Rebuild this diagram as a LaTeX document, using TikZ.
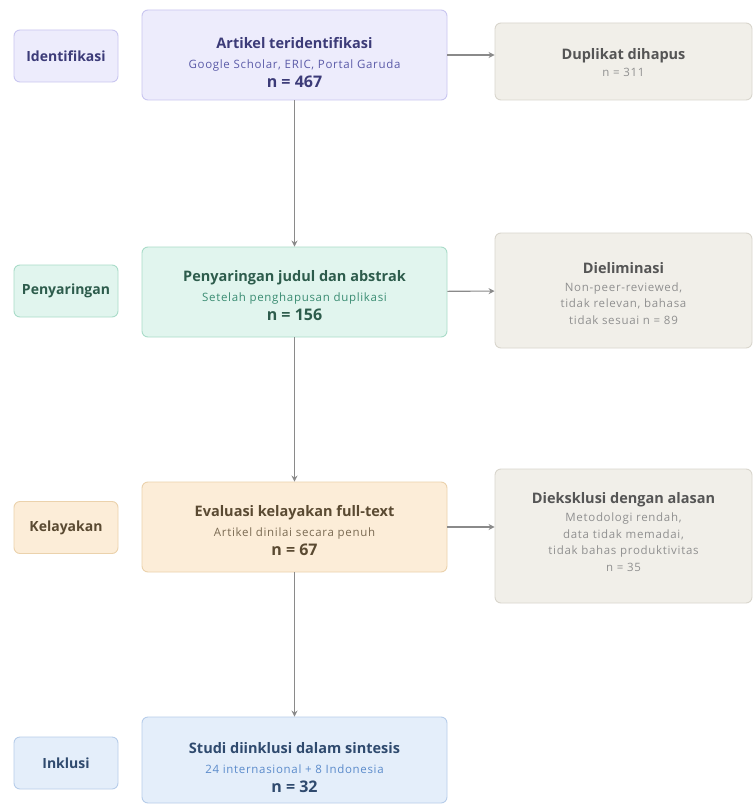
\documentclass[tikz,border=0pt]{standalone}
\usepackage{fontspec}
\setmainfont{Open Sans}
\newfontfamily\subfont[LetterSpace=6]{Open Sans}
\usetikzlibrary{arrows.meta}
\definecolor{idfill}{HTML}{EDECFC}\definecolor{iddraw}{HTML}{C9C6F0}\definecolor{idtext}{HTML}{3C3B78}\definecolor{idsub}{HTML}{5B5BA8}
\definecolor{pyfill}{HTML}{E1F5EE}\definecolor{pydraw}{HTML}{A9DCC9}\definecolor{pytext}{HTML}{2D5C4C}\definecolor{pysub}{HTML}{3A8C72}
\definecolor{klfill}{HTML}{FCEDD8}\definecolor{kldraw}{HTML}{EBD2AC}\definecolor{kltext}{HTML}{5A4A32}\definecolor{klsub}{HTML}{7A6A52}
\definecolor{infill}{HTML}{E4EEFA}\definecolor{indraw}{HTML}{B7CDEA}\definecolor{intext}{HTML}{2F4A6E}\definecolor{insub}{HTML}{5B8BCB}
\definecolor{exfill}{HTML}{F1EFE9}\definecolor{exdraw}{HTML}{D9D6CD}\definecolor{extext}{HTML}{555555}\definecolor{exsub}{HTML}{909090}
\definecolor{arrowc}{HTML}{8A8A8A}
\tikzset{
  box/.style={rounded corners=6pt, line width=0.9pt, align=center, inner sep=2pt},
  mainbox/.style={box, minimum width=305pt, minimum height=90pt},
  labelbox/.style={box, minimum width=104pt, minimum height=52pt, font=\fontsize{14}{16}\selectfont\bfseries},
  exbox/.style={box, fill=exfill, draw=exdraw, minimum width=257pt},
  txt/.style={align=center, inner sep=0pt, font=\fontsize{12}{19.5}\selectfont},
  extxt/.style={align=center, inner sep=0pt, font=\fontsize{12}{16.5}\selectfont},
  conn/.style={draw=arrowc, line width=1.1pt, -{Stealth[length=6pt,width=6pt]}},
}
\newcommand{\ttl}[1]{{\fontsize{14.5}{17}\selectfont\bfseries #1}}
\newcommand{\sbt}[2]{{\fontsize{11.5}{13}\subfont\color{#1}#2}}
\newcommand{\nn}[1]{{\fontsize{16}{17}\selectfont\bfseries #1}}
\begin{document}
\begin{tikzpicture}[x=1pt,y=-1pt]
\useasboundingbox[fill=white] (0,0) rectangle (755,805);
% labels
\node[labelbox, fill=idfill, draw=iddraw, text=idtext] (l1) at (66,56) {Identifikasi};
\node[labelbox, fill=pyfill, draw=pydraw, text=pytext] (l2) at (66,291) {Penyaringan};
\node[labelbox, fill=klfill, draw=kldraw, text=kltext] (l3) at (66,527.5) {Kelayakan};
\node[labelbox, fill=infill, draw=indraw, text=intext] (l4) at (66,763) {Inklusi};
% main boxes
\node[mainbox, fill=idfill, draw=iddraw] (m1) at (294.5,55) {};
\node[mainbox, fill=pyfill, draw=pydraw] (m2) at (294.5,292) {};
\node[mainbox, fill=klfill, draw=kldraw] (m3) at (294.5,527) {};
\node[mainbox, fill=infill, draw=indraw, minimum height=86pt] (m4) at (294.5,760) {};
\node[txt, text=idtext] (t1) at ([yshift=-8pt]m1.center)
  {\ttl{Artikel teridentifikasi}\\ \sbt{idsub}{Google Scholar, ERIC, Portal Garuda}\\ \nn{n = 467}};
\node[txt, text=pytext] (t2) at ([yshift=-4pt]m2.center)
  {\ttl{Penyaringan judul dan abstrak}\\ \sbt{pysub}{Setelah penghapusan duplikasi}\\ \nn{n = 156}};
\node[txt, text=kltext] (t3) at ([yshift=-4pt]m3.center)
  {\ttl{Evaluasi kelayakan full-text}\\ \sbt{klsub}{Artikel dinilai secara penuh}\\ \nn{n = 67}};
\node[txt, text=intext] (t4) at ([yshift=-8pt]m4.center)
  {\ttl{Studi diinklusi dalam sintesis}\\ \sbt{insub}{24 internasional + 8 Indonesia}\\ \nn{n = 32}};
% exclusion boxes
\node[exbox, minimum height=77pt] (e1) at (623.5,61.5) {};
\node[exbox, minimum height=115pt] (e2) at (623.5,290.5) {};
\node[exbox, minimum height=134pt] (e3) at (623.5,536) {};
\node[extxt, text=extext] (x1) at ([yshift=-1pt]e1.center)
  {\ttl{Duplikat dihapus}\\ \sbt{exsub}{n = 311}};
\node[extxt, text=extext] (x2) at ([yshift=-3pt]e2.center)
  {\ttl{Dieliminasi}\\[1pt] \sbt{exsub}{Non-peer-reviewed,}\\ \sbt{exsub}{tidak relevan, bahasa}\\ \sbt{exsub}{tidak sesuai n = 89}};
\node[extxt, text=extext] (x3) at ([yshift=4pt]e3.center)
  {\ttl{Dieksklusi dengan alasan}\\[2pt] \sbt{exsub}{Metodologi rendah,}\\ \sbt{exsub}{data tidak memadai,}\\ \sbt{exsub}{tidak bahas produktivitas}\\ \sbt{exsub}{n = 35}};
% connectors
\draw[conn] (m1) -- (m2);
\draw[conn] (m2) -- (m3);
\draw[conn] (m3) -- (m4);
\draw[conn] (m1.east |- 0,55) -- (e1.west |- 0,55);
\draw[conn] (m2) -- (e2);
\draw[conn] (m3) -- (e3.west |- m3);
\end{tikzpicture}
\end{document}
